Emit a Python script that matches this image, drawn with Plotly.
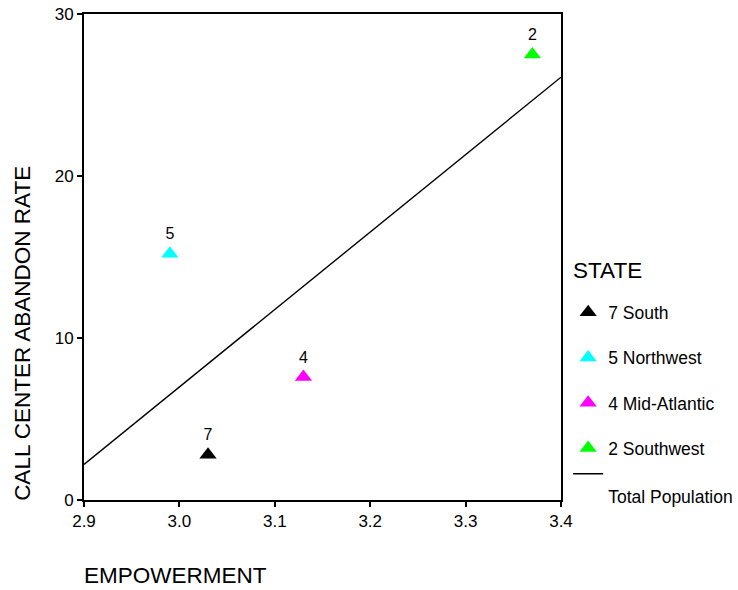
import plotly.graph_objects as go

# Data
states = ["7 South", "5 Northwest", "4 Mid-Atlantic", "2 Southwest"]
labels = ["7", "5", "4", "2"]
empowerment = [3.03, 2.99, 3.13, 3.37]
abandon_rate = [2.8, 15.2, 7.6, 27.5]
colors = ["#000000", "#00FFFF", "#FF00FF", "#00FF00"]

fit_x = [2.9, 3.4]
fit_y = [2.2, 26.1]

x_ticks = [2.9, 3.0, 3.1, 3.2, 3.3, 3.4]
x_ticktext = ["2.9", "3.0", "3.1", "3.2", "3.3", "3.4"]
y_ticks = [0, 10, 20, 30]

FONT = "Liberation Sans, Arial, sans-serif"

fig = go.Figure()
for i, name in enumerate(states):
    fig.add_trace(go.Scatter(
        x=[empowerment[i]], y=[abandon_rate[i]],
        mode="markers+text",
        text=[labels[i]], textposition="top center",
        textfont=dict(family=FONT, size=16, color="#000000"),
        marker=dict(symbol="triangle-up", size=15, color=colors[i], line=dict(width=0)),
        name=name, legendgroup="g%d" % i, cliponaxis=False,
    ))

fig.add_trace(go.Scatter(
    x=fit_x, y=fit_y, mode="lines",
    line=dict(color="#000000", width=1.4),
    name="<br>Total Population", legendgroup="g3",
))

fig.update_layout(
    width=738, height=590,
    margin=dict(l=84, r=177, t=14, b=90, autoexpand=False),
    paper_bgcolor="white", plot_bgcolor="white",
    font=dict(family=FONT, color="#000000"),
    showlegend=True,
    legend=dict(
        font=dict(family=FONT, size=17.5),
        x=1.015, xanchor="left", y=0.423, yanchor="top",
        traceorder="grouped", tracegroupgap=19.5, valign="top",
        bgcolor="rgba(0,0,0,0)",
    ),
    xaxis=dict(
        range=[2.9, 3.4], tickvals=x_ticks, ticktext=x_ticktext,
        showgrid=False, zeroline=False,
        showline=True, linecolor="#000000", linewidth=1.8, mirror=True,
        ticks="outside", ticklen=5, tickwidth=1.5, tickcolor="#000000",
        tickfont=dict(family=FONT, size=17), ticklabeloverflow="allow",
    ),
    yaxis=dict(
        range=[0, 30], tickvals=y_ticks,
        showgrid=False, zeroline=False,
        showline=True, linecolor="#000000", linewidth=1.8, mirror=True,
        ticks="outside", ticklen=5, tickwidth=1.5, tickcolor="#000000",
        tickfont=dict(family=FONT, size=17), ticklabeloverflow="allow",
    ),
    annotations=[
        dict(text="STATE", xref="paper", yref="paper", x=1.02, y=0.473,
             xanchor="left", yanchor="middle", showarrow=False,
             font=dict(family=FONT, size=22.5)),
        dict(text="EMPOWERMENT", xref="paper", yref="paper", x=-0.005, y=-0.155,
             xanchor="left", yanchor="middle", showarrow=False,
             font=dict(family=FONT, size=22.5)),
        dict(text="CALL CENTER ABANDON RATE", xref="paper", yref="paper",
             x=-0.128, y=-0.005, xanchor="center", yanchor="bottom",
             textangle=-90, showarrow=False, font=dict(family=FONT, size=22.5)),
    ],
)

fig.write_html("out.html")
